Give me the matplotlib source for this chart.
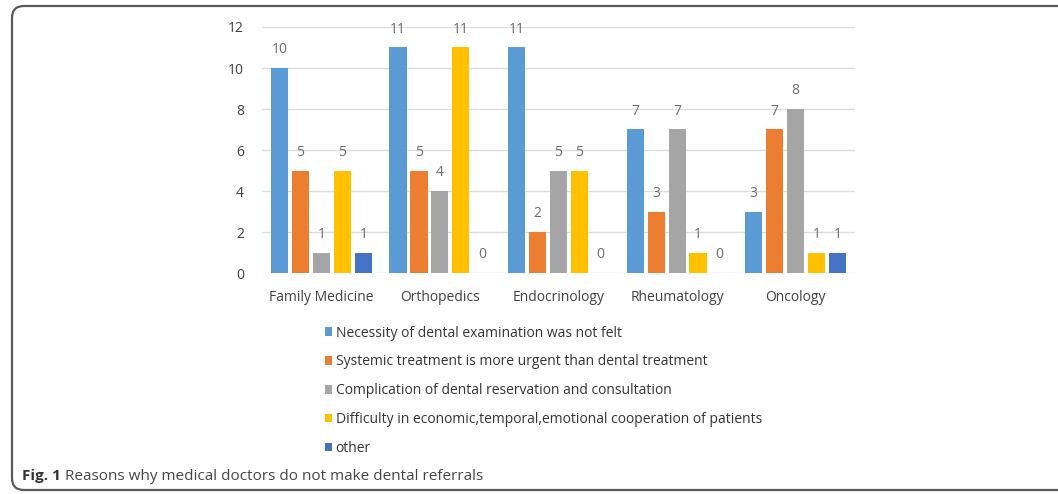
import matplotlib.pyplot as plt
from matplotlib.patches import PathPatch
from matplotlib.path import Path
from matplotlib.transforms import IdentityTransform
import numpy as np

plt.rcParams["font.family"] = ["Open Sans", "DejaVu Sans"]

departments = ["Family Medicine", "Orthopedics", "Endocrinology", "Rheumatology", "Oncology"]
reasons = [
    "Necessity of dental examination was not felt",
    "Systemic treatment is more urgent than dental treatment",
    "Complication of dental reservation and consultation",
    "Difficulty in economic,temporal,emotional cooperation of patients",
    "other",
]
not_felt = [10, 11, 11, 7, 3]
more_urgent = [5, 5, 2, 3, 7]
complication = [1, 4, 5, 7, 8]
difficulty = [5, 11, 5, 1, 1]
other = [1, 0, 0, 0, 1]
series = [not_felt, more_urgent, complication, difficulty, other]
colors = ["#5B9BD5", "#ED7D31", "#A5A5A5", "#FFC000", "#4472C4"]

W, H = 1058, 494
fig = plt.figure(figsize=(W / 100, H / 100), dpi=100)
ax = fig.add_axes([262 / W, 1 - 273 / H, 593 / W, 246 / H])

x = np.arange(len(departments))
step = 0.177
handles = []
for i, (vals, col) in enumerate(zip(series, colors)):
    pos = x + (i - 2) * step
    bars = ax.bar(pos, vals, width=0.145, color=col, zorder=3)
    handles.append(bars)
    for p, v in zip(pos, vals):
        ax.annotate(str(v), (p, v), xytext=(0, 13), textcoords="offset points",
                    ha="center", va="center", fontsize=10, color="#6b6b6b")

ax.set_ylim(0, 12)
ax.set_xlim(-0.5, len(departments) - 0.5)
ax.set_yticks(range(0, 13, 2))
ax.set_xticks(x)
ax.set_xticklabels(departments)
ax.tick_params(length=0, labelsize=10, labelcolor="#404040")
ax.tick_params(axis="y", pad=13)
ax.tick_params(axis="x", pad=12)
ax.grid(axis="y", color="#dcdcdc", linewidth=1, zorder=0)
for s in ax.spines.values():
    s.set_visible(False)

fig.legend(handles, reasons, loc="upper left", bbox_to_anchor=(312 / W, 1 - 313 / H),
           frameon=False, fontsize=10, handlelength=0.55, handleheight=0.55,
           handletextpad=0.25, labelspacing=1.0, labelcolor="#333333")

# caption
cap_y = 1 - 476 / H
cap = fig.text(22 / W, cap_y, "Fig. 1", fontsize=11, fontweight="bold",
               color="#333333", va="center")
fig.canvas.draw()
bb = cap.get_window_extent()
fig.text((bb.x1 + 4) / W, cap_y, "Reasons why medical doctors do not make dental referrals",
         fontsize=11, color="#444444", va="center")

# rounded frame on left/top/bottom, running off the right edge (pixel coords)
left, top, bottom, r = 12, H - 6, 4, 12
verts = [(W + 10, top), (left + r, top), (left, top), (left, top - r),
         (left, bottom + r), (left, bottom), (left + r, bottom), (W + 10, bottom)]
codes = [Path.MOVETO, Path.LINETO, Path.CURVE3, Path.CURVE3,
         Path.LINETO, Path.CURVE3, Path.CURVE3, Path.LINETO]
frame = PathPatch(Path(verts, codes), transform=IdentityTransform(), fill=False,
                  edgecolor="#5a5a5a", linewidth=1.6, clip_on=False)
fig.patches.append(frame)

fig.savefig("out.png", dpi=100)
